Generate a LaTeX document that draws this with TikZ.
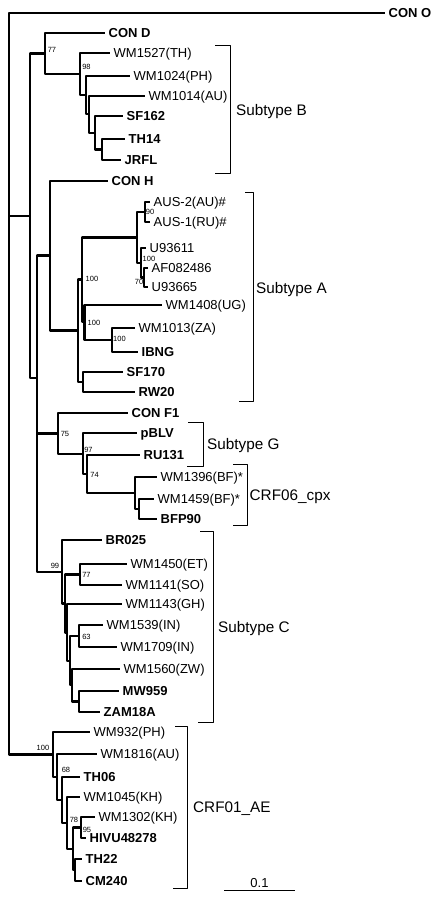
\documentclass[tikz,border=0pt]{standalone}
\usepackage{fontspec}
\setmainfont{Liberation Sans}

\begin{document}
\begin{tikzpicture}[line join=round,x=1pt,y=-1pt,
  branch/.style={line width=2.2pt},
  taxon/.style={anchor=west,inner sep=0pt,inner xsep=3.5pt,text height=9.3pt,text depth=0pt,font=\fontsize{13}{13}\selectfont},
  taxonb/.style={taxon,font=\fontsize{13}{13}\selectfont\bfseries},
  boot/.style={inner sep=0pt,font=\fontsize{7.5}{7.5}\selectfont},
  clade/.style={line width=1pt},
  cladelabel/.style={anchor=west,inner sep=0pt,text height=11pt,text depth=0pt,font=\fontsize{15.3}{15.3}\selectfont}]
\useasboundingbox (0,0) rectangle (440,900);
% taxa
\node[taxonb] (conO) at (385,13) {CON O};
\node[taxonb] (conD) at (105,33) {CON D};
\node[taxon] (wm1527) at (110,53) {WM1527(TH)};
\node[taxon] (wm1024) at (130,76) {WM1024(PH)};
\node[taxon] (wm1014) at (145,96) {WM1014(AU)};
\node[taxonb] (sf162) at (123,116) {SF162};
\node[taxonb] (th14) at (125,139) {TH14};
\node[taxonb] (jrfl) at (121,160) {JRFL};
\node[taxonb] (conH) at (108,181) {CON H};
\node[taxon] (aus2) at (150,202) {AUS-2(AU)\#};
\node[taxon] (aus1) at (150,222) {AUS-1(RU)\#};
\node[taxon] (u93611) at (146,248) {U93611};
\node[taxon] (af082486) at (148,268) {AF082486};
\node[taxon] (u93665) at (148,287) {U93665};
\node[taxon] (wm1408) at (162,305) {WM1408(UG)};
\node[taxon] (wm1013) at (135,328) {WM1013(ZA)};
\node[taxonb] (ibng) at (138,352) {IBNG};
\node[taxonb] (sf170) at (123,372) {SF170};
\node[taxonb] (rw20) at (135,392) {RW20};
\node[taxonb] (conF1) at (128,413) {CON F1};
\node[taxonb] (pblv) at (137,433) {pBLV};
\node[taxonb] (ru131) at (140,455) {RU131};
\node[taxon] (wm1396) at (157,477) {WM1396(BF)*};
\node[taxon] (wm1459) at (154,499) {WM1459(BF)*};
\node[taxonb] (bfp90) at (157,519) {BFP90};
\node[taxonb] (br025) at (102,540) {BR025};
\node[taxon] (wm1450) at (127,564) {WM1450(ET)};
\node[taxon] (wm1141) at (122,585) {WM1141(SO)};
\node[taxon] (wm1143) at (122,604) {WM1143(GH)};
\node[taxon] (wm1539) at (103,625) {WM1539(IN)};
\node[taxon] (wm1709) at (117,647) {WM1709(IN)};
\node[taxon] (wm1560) at (120,669) {WM1560(ZW)};
\node[taxonb] (mw959) at (119,691) {MW959};
\node[taxonb] (zam18a) at (100,712) {ZAM18A};
\node[taxon] (wm932) at (90,732) {WM932(PH)};
\node[taxon] (wm1816) at (97,754) {WM1816(AU)};
\node[taxonb] (th06) at (80,777) {TH06};
\node[taxon] (wm1045) at (80,797) {WM1045(KH)};
\node[taxon] (wm1302) at (95,817) {WM1302(KH)};
\node[taxonb] (hivu) at (86,838) {HIVU48278};
\node[taxonb] (th22) at (82,859) {TH22};
\node[taxonb] (cm240) at (82,881) {CM240};
% inner nodes
\coordinate (root) at (9,382);\coordinate (n30) at (30,216);\coordinate (n45) at (45,53.5);
\coordinate (n80) at (80,74);\coordinate (n86) at (86,95);\coordinate (n89) at (89,114);
\coordinate (n95) at (95,133);\coordinate (n102) at (102,149.5);\coordinate (n37) at (37,378);
\coordinate (n50) at (50,255.5);\coordinate (nA) at (78,330.5);\coordinate (n82) at (82,279.5);
\coordinate (nAus) at (137,237.5);\coordinate (n145) at (145,212);\coordinate (nU) at (141,262.75);
\coordinate (nU2) at (144,277.5);\coordinate (n84) at (84.5,321.5);\coordinate (n112) at (112,340);
\coordinate (n83b) at (83,382);\coordinate (n38) at (37,502.6);\coordinate (n58) at (58,433.5);
\coordinate (n83g) at (83,454);\coordinate (n87) at (87,474);\coordinate (n135) at (135,493);
\coordinate (n139) at (139,509);\coordinate (n62) at (62,571.75);\coordinate (n66) at (65,603.5);
\coordinate (n80c) at (80,574.5);\coordinate (n68) at (67,632.5);\coordinate (n70) at (70,661);
\coordinate (n79) at (79,636);\coordinate (n72) at (72,685);\coordinate (n79b) at (79,701.5);
\coordinate (n52) at (53,754.5);\coordinate (n57) at (57,777);\coordinate (n62x) at (62,800);
\coordinate (n67x) at (67,823);\coordinate (n73) at (73,848.75);\coordinate (n81) at (81,827.5);
\coordinate (n75) at (75,870);
% branches
\draw[branch] (root) |- (conO.west) (root) |- (n30) (root) |- (n52);
\draw[branch] (n30) |- (n45) (n30) |- (n37);
\draw[branch] (n45) |- (conD.west) (n45) |- (n80);
\draw[branch] (n80) |- (wm1527.west) (n80) |- (n86);
\draw[branch] (n86) |- (wm1024.west) (n86) |- (n89);
\draw[branch] (n89) |- (wm1014.west) (n89) |- (n95);
\draw[branch] (n95) |- (sf162.west) (n95) |- (n102);
\draw[branch] (n102) |- (th14.west) (n102) |- (jrfl.west);
\draw[branch] (n37) |- (n50) (n37) |- (n38);
\draw[branch] (n50) |- (conH.west) (n50) |- (nA);
\draw[branch] (nA) |- (n82) (nA) |- (n83b);
\draw[branch] (n82) |- (nAus) (n82) |- (n84);
\draw[branch] (nAus) |- (n145) (nAus) |- (nU);
\draw[branch] (n145) |- (aus2.west) (n145) |- (aus1.west);
\draw[branch] (nU) |- (u93611.west) (nU) |- (nU2);
\draw[branch] (nU2) |- (af082486.west) (nU2) |- (u93665.west);
\draw[branch] (n84) |- (wm1408.west) (n84) |- (n112);
\draw[branch] (n112) |- (wm1013.west) (n112) |- (ibng.west);
\draw[branch] (n83b) |- (sf170.west) (n83b) |- (rw20.west);
\draw[branch] (n38) |- (n58) (n38) |- (n62);
\draw[branch] (n58) |- (conF1.west) (n58) |- (n83g);
\draw[branch] (n83g) |- (pblv.west) (n83g) |- (n87);
\draw[branch] (n87) |- (ru131.west) (n87) |- (n135);
\draw[branch] (n135) |- (wm1396.west) (n135) |- (n139);
\draw[branch] (n139) |- (wm1459.west) (n139) |- (bfp90.west);
\draw[branch] (n62) |- (br025.west) (n62) |- (n66);
\draw[branch] (n66) |- (n80c) (n66) |- (n68);
\draw[branch] (n80c) |- (wm1450.west) (n80c) |- (wm1141.west);
\draw[branch] (n68) |- (wm1143.west) (n68) |- (n70);
\draw[branch] (n70) |- (n79) (n70) |- (n72);
\draw[branch] (n79) |- (wm1539.west) (n79) |- (wm1709.west);
\draw[branch] (n72) |- (wm1560.west) (n72) |- (n79b);
\draw[branch] (n79b) |- (mw959.west) (n79b) |- (zam18a.west);
\draw[branch] (n52) |- (wm932.west) (n52) |- (n57);
\draw[branch] (n57) |- (wm1816.west) (n57) |- (n62x);
\draw[branch] (n62x) |- (th06.west) (n62x) |- (n67x);
\draw[branch] (n67x) |- (wm1045.west) (n67x) |- (n73);
\draw[branch] (n73) |- (n81) (n73) |- (n75);
\draw[branch] (n81) |- (wm1302.west) (n81) |- (hivu.west);
\draw[branch] (n75) |- (th22.west) (n75) |- (cm240.west);
% bootstrap values
\node[boot] (b77) at (52,50) {77};\node[boot] (b98) at (86.5,67) {98};\node[boot] (b90) at (150,212) {90};
\node[boot] (b100u) at (149,259) {100};\node[boot] (b70) at (139,282) {70};\node[boot] (b100a) at (92,279) {100};
\node[boot] (b100b) at (94,323) {100};\node[boot] (b100c) at (119.5,339) {100};\node[boot] (b75) at (65,433.5) {75};
\node[boot] (b97) at (88.5,450) {97};\node[boot] (b74) at (94.5,475) {74};\node[boot] (b99) at (55,565.5) {99};
\node[boot] (b77c) at (86.5,574.5) {77};\node[boot] (b63) at (86.5,636.5) {63};\node[boot] (b100e) at (43,747.5) {100};
\node[boot] (b68) at (66,770) {68};\node[boot] (b78) at (74,819.5) {78};\node[boot] (b95) at (87,829.5) {95};
% clades
\draw[clade] (215,45) -| (230,173) -- (215,173);\node[cladelabel] (subB) at (236,110) {Subtype B};
\draw[clade] (245,192) -| (253,401) -- (239,401);\node[cladelabel] (subA) at (256,288) {Subtype A};
\draw[clade] (188,422) -| (203,466) -- (187,466);\node[cladelabel] (subG) at (207,444) {Subtype G};
\draw[clade] (233,464) -| (247,525) -- (233,525);\node[cladelabel] (crf06) at (249.5,495) {CRF06\_cpx};
\draw[clade] (200,531) -| (213,722) -- (198,722);\node[cladelabel] (subC) at (218,627) {Subtype C};
\draw[clade] (175,726) -| (187,888) -- (173,888);\node[cladelabel] (crf01) at (193,807) {CRF01\_AE};
\draw[clade] (224,890) -- (295,890) node[midway,above,inner sep=1.5pt,font=\fontsize{13}{13}\selectfont] (scale) {0.1};
\end{tikzpicture}
\end{document}
